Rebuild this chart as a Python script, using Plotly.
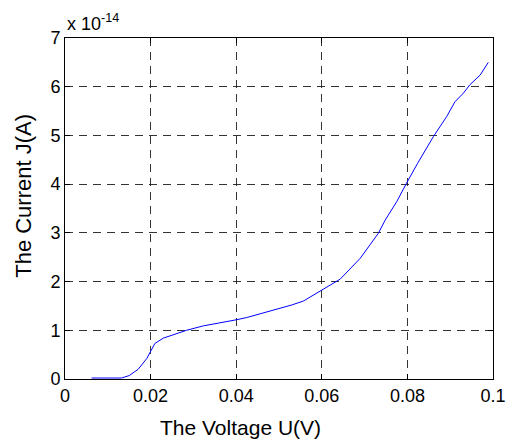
import plotly.graph_objects as go

# Measured J-U characteristic (current in units of 1e-14 A)
voltage_v = [0.0062, 0.0100, 0.0132, 0.0150, 0.0171, 0.0191, 0.0210, 0.0230, 0.0255,
             0.0284, 0.0323, 0.0370, 0.0397, 0.0424, 0.0471, 0.0500, 0.0530, 0.0557,
             0.0598, 0.0643, 0.0690, 0.0732, 0.0748, 0.0775, 0.0798, 0.0824, 0.0861,
             0.0892, 0.0911, 0.0931, 0.0946, 0.0970, 0.0989]
current_e14 = [0.02, 0.02, 0.02, 0.07, 0.20, 0.42, 0.73, 0.84, 0.92,
               1.00, 1.09, 1.16, 1.21, 1.26, 1.37, 1.45, 1.52, 1.60,
               1.82, 2.05, 2.48, 2.99, 3.26, 3.64, 4.02, 4.43, 4.98,
               5.39, 5.69, 5.87, 6.04, 6.24, 6.50]

x_tickvals = [0, 0.02, 0.04, 0.06, 0.08, 0.1]
x_ticktext = ["0", "0.02", "0.04", "0.06", "0.08", "0.1"]
y_tickvals = [0, 1, 2, 3, 4, 5, 6, 7]
y_ticktext = ["0", "1", "2", "3", "4", "5", "6", "7"]

FONT = "Liberation Sans, Arial, Helvetica, sans-serif"

fig = go.Figure()
fig.add_trace(go.Scatter(
    x=voltage_v, y=current_e14, mode="lines",
    line=dict(color="rgb(0,0,255)", width=1),
    showlegend=False,
))

axis_kw = dict(showgrid=True, gridcolor="rgba(30,30,30,0.9)", griddash="8px,6px",
               gridwidth=1, zeroline=False, showline=True, linecolor="black",
               linewidth=1, mirror="ticks", ticks="inside", ticklen=5,
               tickcolor="black", automargin=False,
               tickfont=dict(family=FONT, size=18, color="black"))

fig.update_xaxes(range=[0, 0.1], tickvals=x_tickvals, ticktext=x_ticktext, **axis_kw)
fig.update_yaxes(range=[0, 7], tickvals=y_tickvals, ticktext=y_ticktext, **axis_kw)

# Axis labels and the exponent of the current axis
fig.add_annotation(text="The Voltage U(V)", xref="paper", yref="paper",
                   x=0.409, y=-0.141, xanchor="center", yanchor="middle",
                   showarrow=False, font=dict(family=FONT, size=21, color="black"))
fig.add_annotation(text="The Current J(A)", xref="paper", yref="paper",
                   x=-0.096, y=0.537, xanchor="center", yanchor="middle", textangle=-90,
                   showarrow=False, font=dict(family=FONT, size=22, color="black"))
fig.add_annotation(text="x 10<sup>-14</sup>", xref="paper", yref="paper",
                   x=0, y=1, xanchor="left", yanchor="bottom", yshift=2,
                   showarrow=False, font=dict(family=FONT, size=18, color="black"))

fig.update_layout(
    template="none",
    width=508, height=441,
    margin=dict(l=65, r=15, t=38, b=62),
    paper_bgcolor="white", plot_bgcolor="white",
)

fig.write_html("out.html")
